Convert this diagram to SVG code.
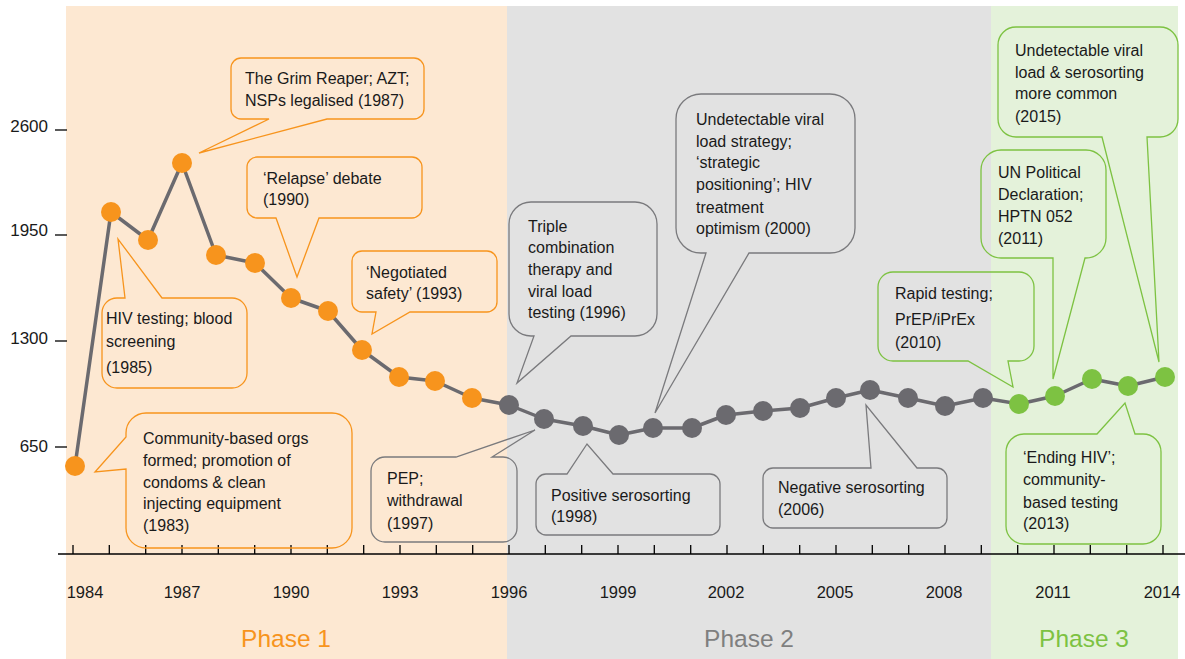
<svg xmlns="http://www.w3.org/2000/svg" width="1185" height="659" viewBox="0 0 1185 659">
  <style>
    text { font-family: "Liberation Sans", Arial, sans-serif; fill: #1a1a1a; }
    .lbl { font-size: 16px; }
    .yr { font-size: 16.5px; text-anchor: middle; }
    .ylab { font-size: 17px; text-anchor: end; }
    .phase { font-size: 24.5px; text-anchor: middle; }
    .co { fill: none; stroke-width: 1.3; stroke-linejoin: miter; }
    .co-or { stroke: #F7941D; }
    .co-gr { stroke: #7A7A7D; }
    .co-gn { stroke: #7DC242; }
    .pt-or { fill: #F7941D; }
    .pt-gr { fill: #6B6A6F; }
    .pt-gn { fill: #7DC242; }
    .tick { stroke: #000; stroke-width: 1.3; }
  </style>

  <!-- phase bands -->
  <g id="bands">
    <rect x="66" y="6" width="441" height="653" fill="#FDE8D2"/>
    <rect x="507" y="6" width="484" height="653" fill="#E2E2E2"/>
    <rect x="991" y="6" width="187" height="653" fill="#E4F2DA"/>
    <text class="phase" x="286" y="647" style="fill:#F7941D">Phase 1</text>
    <text class="phase" x="749" y="647" style="fill:#7F7F7F">Phase 2</text>
    <text class="phase" x="1084" y="647" style="fill:#7DC242">Phase 3</text>
  </g>

  <!-- y axis labels -->
  <g id="y-axis">
    <line class="tick" x1="55" y1="130" x2="67" y2="130"/>
    <line class="tick" x1="55" y1="235" x2="67" y2="235"/>
    <line class="tick" x1="55" y1="341" x2="67" y2="341"/>
    <line class="tick" x1="55" y1="447" x2="67" y2="447"/>
    <text class="ylab" x="48" y="132">2600</text>
    <text class="ylab" x="48" y="236">1950</text>
    <text class="ylab" x="48" y="344">1300</text>
    <text class="ylab" x="48" y="452">650</text>
  </g>

  <!-- x axis -->
  <g id="x-axis">
    <line x1="58" y1="554" x2="1185" y2="554" stroke="#000" stroke-width="1.6"/>
    <path class="tick" fill="none" d="M73,545V554 M109.3,545V554 M145.7,545V554 M182,545V554 M218.3,545V554 M254.7,545V554 M291,545V554 M327.3,545V554 M363.7,545V554 M400,545V554 M436.3,545V554 M472.7,545V554 M509,545V554 M545.3,545V554 M581.7,545V554 M618,545V554 M654.3,545V554 M690.7,545V554 M727,545V554 M763.3,545V554 M799.7,545V554 M836,545V554 M872.3,545V554 M908.7,545V554 M945,545V554 M981.3,545V554 M1017.7,545V554 M1054,545V554 M1090.3,545V554 M1126.7,545V554 M1163,545V554"/>
    <text class="yr" x="85" y="598">1984</text>
    <text class="yr" x="182" y="598">1987</text>
    <text class="yr" x="291" y="598">1990</text>
    <text class="yr" x="400" y="598">1993</text>
    <text class="yr" x="509" y="598">1996</text>
    <text class="yr" x="618" y="598">1999</text>
    <text class="yr" x="726" y="598">2002</text>
    <text class="yr" x="835" y="598">2005</text>
    <text class="yr" x="944" y="598">2008</text>
    <text class="yr" x="1053" y="598">2011</text>
    <text class="yr" x="1162" y="598">2014</text>
  </g>

  <!-- connectors: callout pointers -->
  <g id="connectors">
    <path id="c-1987" class="co co-or" d="M241,58 H414 A10,10 0 0 1 424,68 V109 A10,10 0 0 1 414,119 H327 L199,153 L269,119 H241 A10,10 0 0 1 231,109 V68 A10,10 0 0 1 241,58 Z"/>
    <path id="c-1990" class="co co-or" d="M257,157 H412 A10,10 0 0 1 422,167 V208 A10,10 0 0 1 412,218 H319 L297,277 L276,218 H257 A10,10 0 0 1 247,208 V167 A10,10 0 0 1 257,157 Z"/>
    <path id="c-1985" class="co co-or" d="M117,298 H125 L118,239 L162,298 H232 A15,15 0 0 1 247,313 V373 A15,15 0 0 1 232,388 H117 A15,15 0 0 1 102,373 V313 A15,15 0 0 1 117,298 Z"/>
    <path id="c-1993" class="co co-or" d="M362,251 H487 A10,10 0 0 1 497,261 V302 A10,10 0 0 1 487,312 H410 L372,334 L376,312 H362 A10,10 0 0 1 352,302 V261 A10,10 0 0 1 362,251 Z"/>
    <path id="c-1983" class="co co-or" d="M146,413 H332 A20,20 0 0 1 352,433 V528 A20,20 0 0 1 332,548 H146 A20,20 0 0 1 126,528 V469 L95,472 L126,437 V433 A20,20 0 0 1 146,413 Z"/>
    <path id="c-1997" class="co co-gr" d="M385,457 H456 L535,430 L492,457 H503 A14,14 0 0 1 517,471 V528 A14,14 0 0 1 503,542 H385 A14,14 0 0 1 371,528 V471 A14,14 0 0 1 385,457 Z"/>
    <path id="c-1996" class="co co-gr" d="M531,202 H635 A22,22 0 0 1 657,224 V314 A22,22 0 0 1 635,336 H571 L517,383 L534,336 H531 A22,22 0 0 1 509,314 V224 A22,22 0 0 1 531,202 Z"/>
    <path id="c-2000" class="co co-gr" d="M701,94 H830 A25,25 0 0 1 855,119 V228 A25,25 0 0 1 830,253 H749 L655,413 L706,253 H701 A25,25 0 0 1 676,228 V119 A25,25 0 0 1 701,94 Z"/>
    <path id="c-1998" class="co co-gr" d="M546,474 H567 L587,444 L613,474 H710 A10,10 0 0 1 720,484 V525 A10,10 0 0 1 710,535 H546 A10,10 0 0 1 536,525 V484 A10,10 0 0 1 546,474 Z"/>
    <path id="c-2006" class="co co-gr" d="M773,468 H871 L866,405 L917,468 H937 A10,10 0 0 1 947,478 V518 A10,10 0 0 1 937,528 H773 A10,10 0 0 1 763,518 V478 A10,10 0 0 1 773,468 Z"/>
    <path id="c-2010" class="co co-gn" d="M893,272 H1019 A15,15 0 0 1 1034,287 V346 A15,15 0 0 1 1019,361 H1008 L1013,387 L968,361 H893 A15,15 0 0 1 878,346 V287 A15,15 0 0 1 893,272 Z"/>
    <path id="c-2011" class="co co-gn" d="M1001,150 H1086 A20,20 0 0 1 1106,170 V238 A20,20 0 0 1 1086,258 H1085 L1053,379 L1053,258 H1001 A20,20 0 0 1 981,238 V170 A20,20 0 0 1 1001,150 Z"/>
    <path id="c-2015" class="co co-gn" d="M1016,27 H1160 A18,18 0 0 1 1178,45 V119 A18,18 0 0 1 1160,137 H1147 L1159,362 L1102,137 H1016 A18,18 0 0 1 998,119 V45 A18,18 0 0 1 1016,27 Z"/>
    <path id="c-2013" class="co co-gn" d="M1024,434 H1097 L1125,403 L1135,434 H1143 A18,18 0 0 1 1161,452 V526 A18,18 0 0 1 1143,544 H1024 A18,18 0 0 1 1006,526 V452 A18,18 0 0 1 1024,434 Z"/>
  </g>

  <!-- data series -->
  <g id="series">
    <polyline fill="none" stroke="#6B6A6F" stroke-width="3.5" stroke-linejoin="round"
      points="75,466 111,212 148,240 182,163 216,255 255,263 291,298 328,311 362,350 399,377 435,381 472,398 509,405 544,419 583,426 619,435 653,428 692,428 726,415 763,411 800,408 836,398 870,390 908,398 945,406 983,398 1019,404 1055,396 1092,379 1128,386 1165,377"/>
    <g class="pt-or">
      <circle cx="75" cy="466" r="10"/>
      <circle cx="111" cy="212" r="10"/>
      <circle cx="148" cy="240" r="10"/>
      <circle cx="182" cy="163" r="10"/>
      <circle cx="216" cy="255" r="10"/>
      <circle cx="255" cy="263" r="10"/>
      <circle cx="291" cy="298" r="10"/>
      <circle cx="328" cy="311" r="10"/>
      <circle cx="362" cy="350" r="10"/>
      <circle cx="399" cy="377" r="10"/>
      <circle cx="435" cy="381" r="10"/>
      <circle cx="472" cy="398" r="10"/>
    </g>
    <g class="pt-gr">
      <circle cx="509" cy="405" r="10"/>
      <circle cx="544" cy="419" r="10"/>
      <circle cx="583" cy="426" r="10"/>
      <circle cx="619" cy="435" r="10"/>
      <circle cx="653" cy="428" r="10"/>
      <circle cx="692" cy="428" r="10"/>
      <circle cx="726" cy="415" r="10"/>
      <circle cx="763" cy="411" r="10"/>
      <circle cx="800" cy="408" r="10"/>
      <circle cx="836" cy="398" r="10"/>
      <circle cx="870" cy="390" r="10"/>
      <circle cx="908" cy="398" r="10"/>
      <circle cx="945" cy="406" r="10"/>
      <circle cx="983" cy="398" r="10"/>
    </g>
    <g class="pt-gn">
      <circle cx="1019" cy="404" r="10"/>
      <circle cx="1055" cy="396" r="10"/>
      <circle cx="1092" cy="379" r="10"/>
      <circle cx="1128" cy="386" r="10"/>
      <circle cx="1165" cy="377" r="10"/>
    </g>
  </g>

  <!-- event labels -->
  <g id="n-1987" class="lbl">
    <text x="245" y="84">The Grim Reaper; AZT;</text>
    <text x="245" y="106">NSPs legalised (1987)</text>
  </g>
  <g id="n-1990" class="lbl">
    <text x="263" y="184">‘Relapse’ debate</text>
    <text x="263" y="205">(1990)</text>
  </g>
  <g id="n-1985" class="lbl">
    <text x="106" y="324">HIV testing; blood</text>
    <text x="106" y="347">screening</text>
    <text x="106" y="373">(1985)</text>
  </g>
  <g id="n-1993" class="lbl">
    <text x="366" y="278">‘Negotiated</text>
    <text x="366" y="299">safety’ (1993)</text>
  </g>
  <g id="n-1983" class="lbl">
    <text x="143" y="444">Community-based orgs</text>
    <text x="143" y="466">formed; promotion of</text>
    <text x="143" y="488">condoms &amp; clean</text>
    <text x="143" y="509">injecting equipment</text>
    <text x="143" y="531">(1983)</text>
  </g>
  <g id="n-1997" class="lbl">
    <text x="387" y="484">PEP;</text>
    <text x="387" y="506">withdrawal</text>
    <text x="387" y="529">(1997)</text>
  </g>
  <g id="n-1996" class="lbl">
    <text x="528" y="232">Triple</text>
    <text x="528" y="253">combination</text>
    <text x="528" y="275">therapy and</text>
    <text x="528" y="297">viral load</text>
    <text x="528" y="318">testing (1996)</text>
  </g>
  <g id="n-2000" class="lbl">
    <text x="696" y="125">Undetectable viral</text>
    <text x="696" y="147">load strategy;</text>
    <text x="696" y="168">‘strategic</text>
    <text x="696" y="190">positioning’; HIV</text>
    <text x="696" y="213">treatment</text>
    <text x="696" y="234">optimism (2000)</text>
  </g>
  <g id="n-1998" class="lbl">
    <text x="551" y="501">Positive serosorting</text>
    <text x="551" y="522">(1998)</text>
  </g>
  <g id="n-2006" class="lbl">
    <text x="778" y="493">Negative serosorting</text>
    <text x="778" y="515">(2006)</text>
  </g>
  <g id="n-2010" class="lbl">
    <text x="895" y="299">Rapid testing;</text>
    <text x="895" y="325">PrEP/iPrEx</text>
    <text x="895" y="348">(2010)</text>
  </g>
  <g id="n-2011" class="lbl">
    <text x="998" y="178">UN Political</text>
    <text x="998" y="200">Declaration;</text>
    <text x="998" y="222">HPTN 052</text>
    <text x="998" y="244">(2011)</text>
  </g>
  <g id="n-2015" class="lbl">
    <text x="1015" y="56">Undetectable viral</text>
    <text x="1015" y="78">load &amp; serosorting</text>
    <text x="1015" y="99">more common</text>
    <text x="1015" y="122">(2015)</text>
  </g>
  <g id="n-2013" class="lbl">
    <text x="1023" y="463">‘Ending HIV’;</text>
    <text x="1023" y="485">community-</text>
    <text x="1023" y="508">based testing</text>
    <text x="1023" y="529">(2013)</text>
  </g>
</svg>
